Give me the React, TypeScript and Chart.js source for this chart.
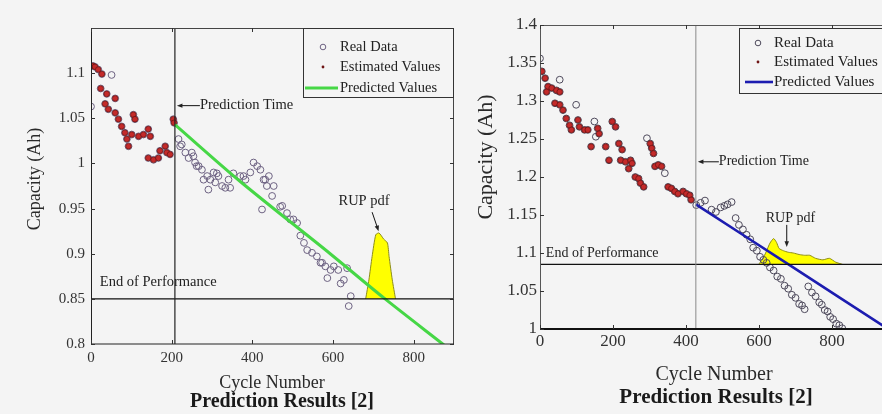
import { useEffect, useRef } from "react";
import { Chart, registerables } from "chart.js";

Chart.register(...registerables);

const SERIF = "'Liberation Serif', 'Times New Roman', Times, serif";
const BG = "#f4f4f4";

const LEG_REAL = "Real Data";
const LEG_EST = "Estimated Values";
const LEG_PRED = "Predicted Values";
const TXT_PT = "Prediction Time";
const TXT_RUP = "RUP pdf";
const TXT_EOP = "End of Performance";
const TXT_Y = "Capacity (Ah)";
const TXT_X = "Cycle Number";
const TXT_CAP = "Prediction Results [2]";

// ---------------- Left panel data ----------------
const L_X_TICKS = [0, 200, 400, 600, 800];
const L_Y_TICKS = [0.8, 0.85, 0.9, 0.95, 1, 1.05, 1.1];

const L_REAL_X = [
  0, 5, 10, 18, 27, 51, 24, 39, 60, 35, 43, 60, 68, 76, 84, 89, 93, 105, 109, 101,
  118, 130, 142, 147, 142, 155, 167, 171, 184, 188, 196, 204, 206,
  217, 221, 225, 234, 242, 250, 254, 258, 262, 267, 275, 279, 288, 291, 296, 304, 308, 312, 316, 325,
  333, 341, 345, 353, 370, 378, 383, 395, 403, 412, 420, 428, 432, 436, 441, 449, 453, 424, 469, 474,
  486, 494, 502, 511, 519, 528, 536, 548, 560, 569, 573, 581, 586, 594, 602, 613, 619, 627, 635, 644, 639,
];
const L_REAL_Y = [
  1.063, 1.108, 1.107, 1.104, 1.099, 1.098, 1.083, 1.077, 1.072, 1.066, 1.06, 1.056, 1.049, 1.041, 1.034, 1.027, 1.019, 1.054, 1.049, 1.032,
  1.03, 1.032, 1.038, 1.03, 1.006, 1.004, 1.006, 1.014, 1.019, 1.012, 1.01, 1.049, 1.045,
  1.027, 1.019, 1.021, 1.012, 1.006, 1.012, 1.008, 1.001, 0.997, 0.997, 0.993, 0.982, 0.986, 0.971, 0.982, 0.99, 0.979, 0.989, 0.986, 0.975,
  0.973, 0.982, 0.973, 0.989, 0.986, 0.986, 0.982, 0.99, 1.001, 0.997, 0.993, 0.982, 0.982, 0.975, 0.986, 0.964, 0.975, 0.949, 0.952, 0.953,
  0.945, 0.938, 0.938, 0.934, 0.92, 0.912, 0.904, 0.901, 0.897, 0.89, 0.89, 0.886, 0.873, 0.882, 0.886, 0.882, 0.867, 0.871, 0.884, 0.853, 0.842,
];
const L_EST_X = [
  5, 10, 18, 27, 24, 39, 60, 35, 43, 60, 68, 76, 84, 89, 93, 105, 109, 101, 118, 130,
  142, 147, 142, 155, 167, 171, 184, 188, 196, 204, 206,
];
const L_EST_Y = [
  1.108, 1.107, 1.104, 1.099, 1.083, 1.077, 1.072, 1.066, 1.06, 1.056, 1.049, 1.041, 1.034, 1.027, 1.019, 1.054, 1.049, 1.032, 1.03, 1.032,
  1.038, 1.03, 1.006, 1.004, 1.006, 1.014, 1.019, 1.012, 1.01, 1.049, 1.045,
];
const L_PRED_X = [208, 370, 593, 726, 875];
const L_PRED_Y = [1.043, 0.98, 0.9, 0.851, 0.799];
const L_PDF_X = [681, 689, 697, 706, 714, 726, 735, 739, 747, 755];
const L_PDF_Y = [0.85, 0.871, 0.897, 0.921, 0.923, 0.916, 0.912, 0.897, 0.871, 0.85];
const L_PRED_TIME = 208;
const L_EOP = 0.85;

// ---------------- Right panel data ----------------
const R_X_TICKS = [0, 200, 400, 600, 800, 1000];
const R_Y_TICKS = [1, 1.05, 1.1, 1.15, 1.2, 1.25, 1.3, 1.35, 1.4];

const R_REAL_X = [
  0, 5, 14, 22, 18, 32, 45, 54, 54, 41, 54, 63, 99, 72, 81, 86, 104, 108, 122, 131,
  140, 149, 158, 162, 153, 180, 189, 198, 207, 216, 225, 221, 234, 248, 252, 243, 261, 270, 275, 284,
  293, 302, 306, 311, 315, 324, 333, 342, 351, 360, 369, 378, 392, 401, 410, 414,
  428, 440, 452, 470, 482, 495, 505, 514, 525, 536, 545, 556, 566, 576, 584, 594, 603, 612, 621, 630,
  640, 650, 660, 670, 680, 690, 700, 710, 718, 725, 735, 745, 755, 765, 772, 780, 788, 795, 803, 812, 820, 828,
];
const R_REAL_Y = [
  1.356, 1.339, 1.33, 1.319, 1.312, 1.317, 1.314, 1.328, 1.312, 1.297, 1.295, 1.288, 1.295, 1.277, 1.268, 1.262, 1.275, 1.266, 1.262, 1.262,
  1.24, 1.273, 1.264, 1.257, 1.253, 1.24, 1.222, 1.273, 1.266, 1.244, 1.236, 1.222, 1.22, 1.222, 1.218, 1.211, 1.2, 1.198, 1.192, 1.187,
  1.251, 1.244, 1.238, 1.231, 1.214, 1.216, 1.214, 1.205, 1.187, 1.185, 1.181, 1.178, 1.181, 1.178, 1.176, 1.17,
  1.163, 1.166, 1.169, 1.157, 1.154, 1.16, 1.162, 1.164, 1.167, 1.146, 1.137, 1.131, 1.124, 1.118, 1.107, 1.103, 1.095, 1.091, 1.087, 1.081,
  1.077, 1.069, 1.066, 1.057, 1.053, 1.045, 1.041, 1.033, 1.031, 1.026, 1.056, 1.048, 1.043, 1.035, 1.032, 1.025, 1.023, 1.016, 1.013, 1.007, 1.005, 1.001,
];
const R_EST_X = [
  5, 14, 22, 18, 32, 45, 54, 41, 54, 63, 72, 81, 86, 104, 108, 122, 131, 140, 158, 162,
  180, 189, 198, 207, 216, 225, 221, 234, 248, 252, 243, 261, 270, 275, 284, 302, 306, 311, 315, 324,
  333, 351, 360, 369, 378, 392, 401, 410, 414,
];
const R_EST_Y = [
  1.339, 1.33, 1.319, 1.312, 1.317, 1.314, 1.312, 1.297, 1.295, 1.288, 1.277, 1.268, 1.262, 1.275, 1.266, 1.262, 1.262, 1.24, 1.264, 1.257,
  1.24, 1.222, 1.273, 1.266, 1.244, 1.236, 1.222, 1.22, 1.222, 1.218, 1.211, 1.2, 1.198, 1.192, 1.187, 1.244, 1.238, 1.231, 1.214, 1.216,
  1.214, 1.187, 1.185, 1.181, 1.178, 1.181, 1.178, 1.176, 1.17,
];
const R_PRED_X = [427, 684, 960];
const R_PRED_Y = [1.164, 1.084, 0.998];
const R_PDF_X = [599, 610, 620, 630, 640, 648, 655, 667, 680, 694, 710, 725, 739, 755, 775, 793, 810, 829];
const R_PDF_Y = [1.085, 1.092, 1.102, 1.113, 1.119, 1.114, 1.106, 1.103, 1.101, 1.1, 1.098, 1.097, 1.097, 1.093, 1.091, 1.093, 1.088, 1.085];
const R_PRED_TIME = 427;
const R_EOP = 1.085;

// ---------------- helpers ----------------
const zip = (xs: number[], ys: number[]) => xs.map((x, i) => ({ x, y: ys[i] }));

function arrow(ctx: CanvasRenderingContext2D, x1: number, y1: number, x2: number, y2: number, head = 7) {
  const ang = Math.atan2(y2 - y1, x2 - x1);
  ctx.beginPath();
  ctx.moveTo(x1, y1);
  ctx.lineTo(x2 - Math.cos(ang) * head * 0.7, y2 - Math.sin(ang) * head * 0.7);
  ctx.stroke();
  ctx.beginPath();
  ctx.moveTo(x2, y2);
  ctx.lineTo(x2 - head * Math.cos(ang - 0.38), y2 - head * Math.sin(ang - 0.38));
  ctx.lineTo(x2 - head * Math.cos(ang + 0.38), y2 - head * Math.sin(ang + 0.38));
  ctx.closePath();
  ctx.fill();
}

type Panel = any;

const LEFT: Panel = {
  left: 0, width: 470, padTop: 28, padRight: 16, padBottom: 22, yAxisW: 91, xAxisH: 48,
  xMin: 0, xMax: 900, yMin: 0.8, yMax: 1.15,
  xTicks: L_X_TICKS, yTicks: L_Y_TICKS, tickSize: 15, tickPadX: 5, tickPadY: 6,
  realX: L_REAL_X, realY: L_REAL_Y, estX: L_EST_X, estY: L_EST_Y,
  predX: L_PRED_X, predY: L_PRED_Y, pdfX: L_PDF_X, pdfY: L_PDF_Y,
  predTime: L_PRED_TIME, eop: L_EOP,
  realColor: "#6d6282", realR: 3.4, estColor: "#c42a2a", estBorder: "#6e1414", estR: 2.8,
  predColor: "#46d746", predWidth: 3,
  ptColor: "#222", ptWidth: 1.2,
  leftAxis: "#222", topAxis: "#444", bottomAxis: "#222", bottomWidth: 1.2,
  legend: { dy: 0, w: 151, h: 69, rows: [19, 39, 60], markX: 20, lineX0: 2, lineX1: 35, textX: 37, font: 14.5 },
  yTitle: { x: 35, y: 179, size: 18 }, xTitle: { x: 272, y: 383, size: 18 }, caption: { x: 282, y: 402, size: 20 },
  annot: { size: 14.5, ptY: 1.064, ptTail: 23, rupText: [677, 0.958], rupFrom: [697, 0.946], rupTo: [713, 0.925], eopText: [22, 0.869] },
};

const RIGHT: Panel = {
  left: 441, width: 483, padTop: 25, padRight: 14, padBottom: 35, yAxisW: 99, xAxisH: 50,
  xMin: 0, xMax: 1000, yMin: 1, yMax: 1.4,
  xTicks: R_X_TICKS, yTicks: R_Y_TICKS, tickSize: 17, tickPadX: 2, tickPadY: 3,
  realX: R_REAL_X, realY: R_REAL_Y, estX: R_EST_X, estY: R_EST_Y,
  predX: R_PRED_X, predY: R_PRED_Y, pdfX: R_PDF_X, pdfY: R_PDF_Y,
  predTime: R_PRED_TIME, eop: R_EOP,
  realColor: "#4e4a5c", realR: 3.4, estColor: "#c42a2a", estBorder: "#6e1414", estR: 2.8,
  predColor: "#1c1cb0", predWidth: 2.6,
  ptColor: "#8a8a8a", ptWidth: 1,
  leftAxis: "#555", topAxis: "#555", bottomAxis: "#111", bottomWidth: 2,
  legend: { dy: 3, w: 166, h: 65, rows: [15, 34, 54], markX: 19, lineX0: 6, lineX1: 34, textX: 35, font: 15 },
  yTitle: { x: 45, y: 157, size: 22 }, xTitle: { x: 273, y: 375, size: 20 }, caption: { x: 275, y: 398, size: 21 },
  annot: { size: 14, ptY: 1.22, ptTail: 21, rupText: [686, 1.146], rupFrom: [676, 1.137], rupTo: [676, 1.108], eopText: [16, 1.1] },
};

function makePlugin(p: Panel) {
  return {
    id: "panelDecor",
    afterDraw(chart: any) {
      const { ctx, chartArea: a, scales } = chart;
      const xs = scales.x;
      const ys = scales.y;
      ctx.save();
      // frame
      ctx.lineWidth = 1;
      ctx.strokeStyle = p.topAxis;
      ctx.beginPath();
      ctx.moveTo(a.left, a.top + 0.5);
      ctx.lineTo(a.right, a.top + 0.5);
      ctx.moveTo(a.right - 0.5, a.top);
      ctx.lineTo(a.right - 0.5, a.bottom);
      ctx.stroke();
      ctx.strokeStyle = p.leftAxis;
      ctx.beginPath();
      ctx.moveTo(a.left + 0.5, a.top);
      ctx.lineTo(a.left + 0.5, a.bottom);
      ctx.stroke();
      ctx.strokeStyle = p.bottomAxis;
      ctx.lineWidth = p.bottomWidth;
      ctx.beginPath();
      ctx.moveTo(a.left, a.bottom);
      ctx.lineTo(a.right, a.bottom);
      ctx.stroke();
      // inward ticks
      ctx.lineWidth = 1;
      ctx.strokeStyle = "#333";
      ctx.beginPath();
      for (const v of p.xTicks) {
        const px = Math.round(xs.getPixelForValue(v)) + 0.5;
        ctx.moveTo(px, a.bottom);
        ctx.lineTo(px, a.bottom - 4);
        ctx.moveTo(px, a.top);
        ctx.lineTo(px, a.top + 4);
      }
      for (const v of p.yTicks) {
        const py = Math.round(ys.getPixelForValue(v)) + 0.5;
        ctx.moveTo(a.left, py);
        ctx.lineTo(a.left + 4, py);
        ctx.moveTo(a.right, py);
        ctx.lineTo(a.right - 4, py);
      }
      ctx.stroke();

      // annotations
      const an = p.annot;
      ctx.fillStyle = "#222";
      ctx.strokeStyle = "#111";
      ctx.lineWidth = 1;
      ctx.font = `${an.size}px ${SERIF}`;
      ctx.textBaseline = "middle";
      ctx.textAlign = "left";
      const tipX = xs.getPixelForValue(p.predTime) + 2;
      const tipY = ys.getPixelForValue(an.ptY);
      arrow(ctx, tipX + an.ptTail, tipY, tipX, tipY, 6);
      ctx.fillText(TXT_PT, tipX + an.ptTail, tipY);
      ctx.textAlign = "center";
      ctx.fillText(TXT_RUP, xs.getPixelForValue(an.rupText[0]), ys.getPixelForValue(an.rupText[1]));
      arrow(
        ctx,
        xs.getPixelForValue(an.rupFrom[0]), ys.getPixelForValue(an.rupFrom[1]),
        xs.getPixelForValue(an.rupTo[0]), ys.getPixelForValue(an.rupTo[1]), 6,
      );
      ctx.textAlign = "left";
      ctx.fillText(TXT_EOP, xs.getPixelForValue(an.eopText[0]), ys.getPixelForValue(an.eopText[1]));

      // legend
      const L = p.legend;
      const bx = a.right - L.w;
      const by = a.top + L.dy;
      ctx.fillStyle = BG;
      ctx.fillRect(bx, by, L.w, L.h);
      ctx.strokeStyle = "#333";
      ctx.lineWidth = 1;
      ctx.strokeRect(bx + 0.5, by + 0.5, L.w - 1, L.h);
      ctx.font = `${L.font}px ${SERIF}`;
      ctx.textAlign = "left";
      ctx.textBaseline = "middle";
      ctx.fillStyle = "#222";
      ctx.fillText(LEG_REAL, bx + L.textX, by + L.rows[0]);
      ctx.fillText(LEG_EST, bx + L.textX, by + L.rows[1]);
      ctx.fillText(LEG_PRED, bx + L.textX, by + L.rows[2]);
      ctx.strokeStyle = p.realColor;
      ctx.beginPath();
      ctx.arc(bx + L.markX, by + L.rows[0], 2.8, 0, Math.PI * 2);
      ctx.stroke();
      ctx.fillStyle = p.estBorder;
      ctx.beginPath();
      ctx.arc(bx + L.markX, by + L.rows[1], 1.4, 0, Math.PI * 2);
      ctx.fill();
      ctx.strokeStyle = p.predColor;
      ctx.lineWidth = p.predWidth;
      ctx.beginPath();
      ctx.moveTo(bx + L.lineX0, by + L.rows[2]);
      ctx.lineTo(bx + L.lineX1, by + L.rows[2]);
      ctx.stroke();

      // axis titles and caption
      ctx.fillStyle = "#2a2a2a";
      ctx.textAlign = "center";
      ctx.textBaseline = "middle";
      ctx.font = `${p.xTitle.size}px ${SERIF}`;
      ctx.fillText(TXT_X, p.xTitle.x, p.xTitle.y);
      ctx.font = `bold ${p.caption.size}px ${SERIF}`;
      ctx.fillStyle = "#1a1a1a";
      ctx.fillText(TXT_CAP, p.caption.x, p.caption.y);
      ctx.save();
      ctx.translate(p.yTitle.x, p.yTitle.y);
      ctx.rotate(-Math.PI / 2);
      ctx.font = `${p.yTitle.size}px ${SERIF}`;
      ctx.fillStyle = "#2a2a2a";
      ctx.fillText(TXT_Y, 0, 0);
      ctx.restore();
      ctx.restore();
    },
  };
}

function buildConfig(p: Panel): any {
  const tickFont = { family: SERIF, size: p.tickSize };
  return {
    type: "scatter",
    data: {
      datasets: [
        {
          label: TXT_PT, type: "line", data: [{ x: p.predTime, y: p.yMin }, { x: p.predTime, y: p.yMax }],
          borderColor: p.ptColor, borderWidth: p.ptWidth, pointRadius: 0, order: 0,
        },
        {
          label: TXT_EOP, type: "line", data: [{ x: p.xMin, y: p.eop }, { x: p.xMax, y: p.eop }],
          borderColor: "#111", borderWidth: 1.4, pointRadius: 0, order: 1,
        },
        {
          label: LEG_PRED, type: "line", data: zip(p.predX, p.predY), borderColor: p.predColor,
          borderWidth: p.predWidth, pointRadius: 0, tension: 0.3, order: 2,
        },
        {
          label: LEG_EST, data: zip(p.estX, p.estY), pointRadius: p.estR, backgroundColor: p.estColor,
          borderColor: p.estBorder, borderWidth: 0.8, order: 3,
        },
        {
          label: LEG_REAL, data: zip(p.realX, p.realY), pointRadius: p.realR, backgroundColor: "rgba(0,0,0,0)",
          borderColor: p.realColor, borderWidth: 1, order: 4,
        },
        {
          label: TXT_RUP, type: "line", data: zip(p.pdfX, p.pdfY), fill: { value: p.eop },
          backgroundColor: "#ffff00", borderColor: "#8c8c1a", borderWidth: 1, pointRadius: 0, tension: 0.2, order: 5,
        },
      ],
    },
    options: {
      animation: false,
      responsive: false,
      devicePixelRatio: 1,
      layout: { padding: { left: 0, top: p.padTop, right: p.padRight, bottom: p.padBottom } },
      plugins: { legend: { display: false }, tooltip: { enabled: false }, title: { display: false } },
      scales: {
        x: {
          type: "linear", min: p.xMin, max: p.xMax,
          afterBuildTicks: (s: any) => { s.ticks = p.xTicks.map((v: number) => ({ value: v })); },
          afterFit: (s: any) => { s.height = p.xAxisH; },
          grid: { display: false, drawTicks: false }, border: { display: false },
          ticks: { font: tickFont, color: "#333", padding: p.tickPadX, maxRotation: 0, autoSkip: false, callback: (v: number) => String(v) },
        },
        y: {
          type: "linear", min: p.yMin, max: p.yMax,
          afterBuildTicks: (s: any) => { s.ticks = p.yTicks.map((v: number) => ({ value: v })); },
          afterFit: (s: any) => { s.width = p.yAxisW; },
          grid: { display: false, drawTicks: false }, border: { display: false },
          ticks: { font: tickFont, color: "#333", padding: p.tickPadY, autoSkip: false, callback: (v: number) => String(v) },
        },
      },
    },
    plugins: [makePlugin(p)],
  };
}

function PanelChart({ p }: { p: Panel }) {
  const ref = useRef<HTMLCanvasElement>(null);
  useEffect(() => {
    const chart = new Chart(ref.current as HTMLCanvasElement, buildConfig(p));
    return () => chart.destroy();
  }, [p]);
  return (
    <canvas
      ref={ref}
      width={p.width}
      height={414}
      style={{ position: "absolute", left: p.left, top: 0, width: p.width, height: 414 }}
    />
  );
}

export default function App() {
  return (
    <div style={{ position: "absolute", left: 0, top: 0, width: 882, height: 414, overflow: "hidden", background: BG }}>
      <PanelChart p={LEFT} />
      <PanelChart p={RIGHT} />
    </div>
  );
}
